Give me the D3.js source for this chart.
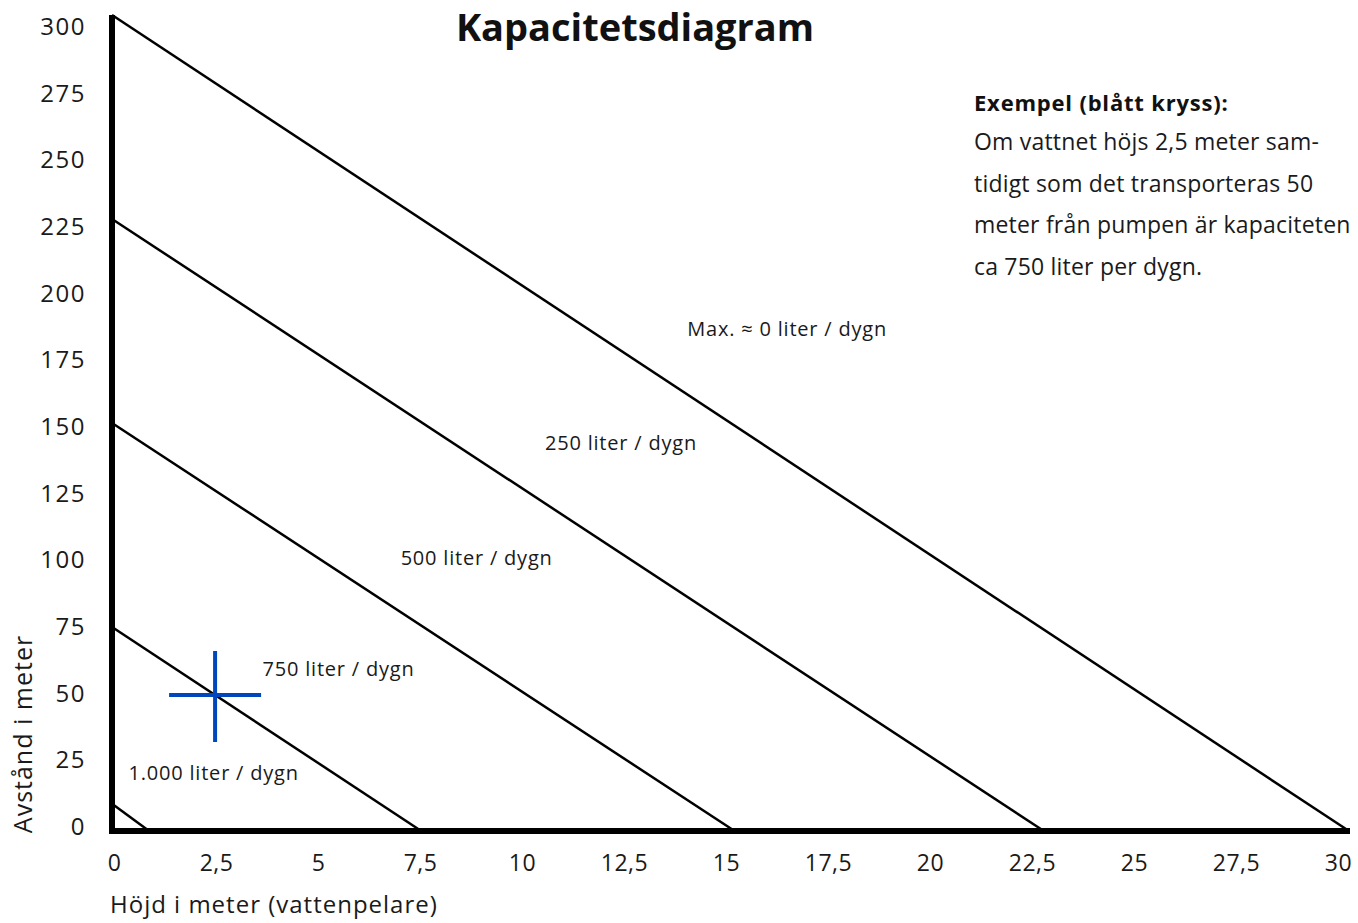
<!DOCTYPE html>
<html>
<head>
<meta charset="utf-8">
<script src="https://cdn.jsdelivr.net/npm/d3@7"></script>
<style>
  body { margin: 0; background: #fff; }
  text { font-family: "Open Sans", sans-serif; fill: #1a1a1a; }
</style>
</head>
<body>
<div class="chart"></div>
<script>
// capacity lines: from (0, distance) to (height, 0)
const capacities = ['Max. ≈ 0 liter / dygn', '250 liter / dygn', '500 liter / dygn', '750 liter / dygn', '1.000 liter / dygn'];
const maxDistance = [300, 225, 150, 75, 10];
const maxHeight = [30, 22.6, 15.1, 7.5, 0.9];
// where each line's label sits (data units, left edge / middle)
const labelHeight = [13.95, 10.5, 7.0, 3.65, 0.4];
const labelDistance = [184.5, 142.5, 100.5, 59.5, 21.5];

const xTicks = [0, 2.5, 5, 7.5, 10, 12.5, 15, 17.5, 20, 22.5, 25, 27.5, 30];
const yTicks = [0, 25, 50, 75, 100, 125, 150, 175, 200, 225, 250, 275, 300];

const example = { height: 2.5, distance: 50 };
const exampleText = [
  'Om vattnet höjs 2,5 meter sam-',
  'tidigt som det transporteras 50',
  'meter från pumpen är kapaciteten',
  'ca 750 liter per dygn.'
];

const width = 1358, height = 923;
const fmt = d => String(d).replace('.', ',');

const svg = d3.select('.chart').append('svg')
  .attr('width', width).attr('height', height);

const x = d3.scaleLinear().domain([0, 30]).range([112, 1349]);
const y = d3.scaleLinear().domain([0, 300]).range([831, 15]);
// tick labels sit slightly differently than the plot scale
const xLab = d3.scaleLinear().domain([0, 30]).range([114, 1338]);
const yLab = d3.scaleLinear().domain([0, 300]).range([826, 26]);

// capacity lines
svg.selectAll('.cap')
  .data(capacities)
  .join('line')
  .attr('class', 'cap')
  .attr('x1', x(0))
  .attr('y1', (d, i) => y(maxDistance[i]))
  .attr('x2', (d, i) => x(maxHeight[i]))
  .attr('y2', y(0))
  .attr('stroke', '#000')
  .attr('stroke-width', 2.5);

svg.selectAll('.cap-label')
  .data(capacities)
  .join('text')
  .attr('class', 'cap-label')
  .attr('x', (d, i) => x(labelHeight[i]))
  .attr('y', (d, i) => y(labelDistance[i]))
  .attr('dy', '0.35em')
  .style('font-size', '20px')
  .style('letter-spacing', '0.8px')
  .text(d => d);

// axes
const xAxis = d3.axisBottom(xLab).tickValues(xTicks).tickFormat(fmt).tickSize(0).tickPadding(0);
const xg = svg.append('g').attr('transform', 'translate(0,863)').call(xAxis);
xg.select('.domain').remove();
xg.selectAll('text').attr('dy', '0.35em').attr('y', 0)
  .style('font-size', '23px').style('font-family', '"Open Sans", sans-serif').style('fill', '#1a1a1a')
  .style('letter-spacing', '0.5px');

const yAxis = d3.axisLeft(yLab).tickValues(yTicks).tickSize(0).tickPadding(0);
const yg = svg.append('g').attr('transform', 'translate(86,0)').call(yAxis);
yg.select('.domain').remove();
yg.selectAll('text').attr('dy', '0.35em').attr('x', 0)
  .style('font-size', '24px').style('font-family', '"Open Sans", sans-serif').style('fill', '#1a1a1a')
  .style('letter-spacing', '1.5px');

svg.append('line')
  .attr('x1', x(0)).attr('x2', x(0))
  .attr('y1', y(300)).attr('y2', y(0) + 3)
  .attr('stroke', '#000').attr('stroke-width', 6);
svg.append('line')
  .attr('x1', x(0) - 3).attr('x2', x(30) + 1)
  .attr('y1', y(0)).attr('y2', y(0))
  .attr('stroke', '#000').attr('stroke-width', 6);

// axis titles
svg.append('text')
  .attr('x', 110).attr('y', 905).attr('dy', '0.35em')
  .style('font-size', '24px').style('letter-spacing', '1px')
  .text('Höjd i meter (vattenpelare)');
svg.append('text')
  .attr('transform', 'translate(23,734) rotate(-90)')
  .attr('text-anchor', 'middle').attr('dy', '0.35em')
  .style('font-size', '25px').style('letter-spacing', '1px')
  .text('Avstånd i meter');

// title
svg.append('text')
  .attr('x', 635).attr('y', 28).attr('dy', '0.35em')
  .attr('text-anchor', 'middle')
  .style('font-size', '38px').style('font-weight', 'bold').style('fill', '#111')
  .text('Kapacitetsdiagram');

// example cross
const cx = x(example.height), cy = y(example.distance);
svg.append('line')
  .attr('x1', cx - 46).attr('x2', cx + 46).attr('y1', cy).attr('y2', cy)
  .attr('stroke', '#0047bb').attr('stroke-width', 4);
svg.append('line')
  .attr('x1', cx).attr('x2', cx).attr('y1', cy - 44).attr('y2', cy + 47)
  .attr('stroke', '#0047bb').attr('stroke-width', 4);

// example text
svg.append('text')
  .attr('x', 974).attr('y', 103).attr('dy', '0.35em')
  .style('font-size', '22px').style('font-weight', 'bold').style('fill', '#111')
  .style('letter-spacing', '0.8px')
  .text('Exempel (blått kryss):');
svg.selectAll('.ex-line')
  .data(exampleText)
  .join('text')
  .attr('class', 'ex-line')
  .attr('x', 974)
  .attr('y', (d, i) => 142 + i * 41.5)
  .attr('dy', '0.35em')
  .style('font-size', '23px')
  .style('letter-spacing', '0.2px')
  .text(d => d);
</script>
</body>
</html>
